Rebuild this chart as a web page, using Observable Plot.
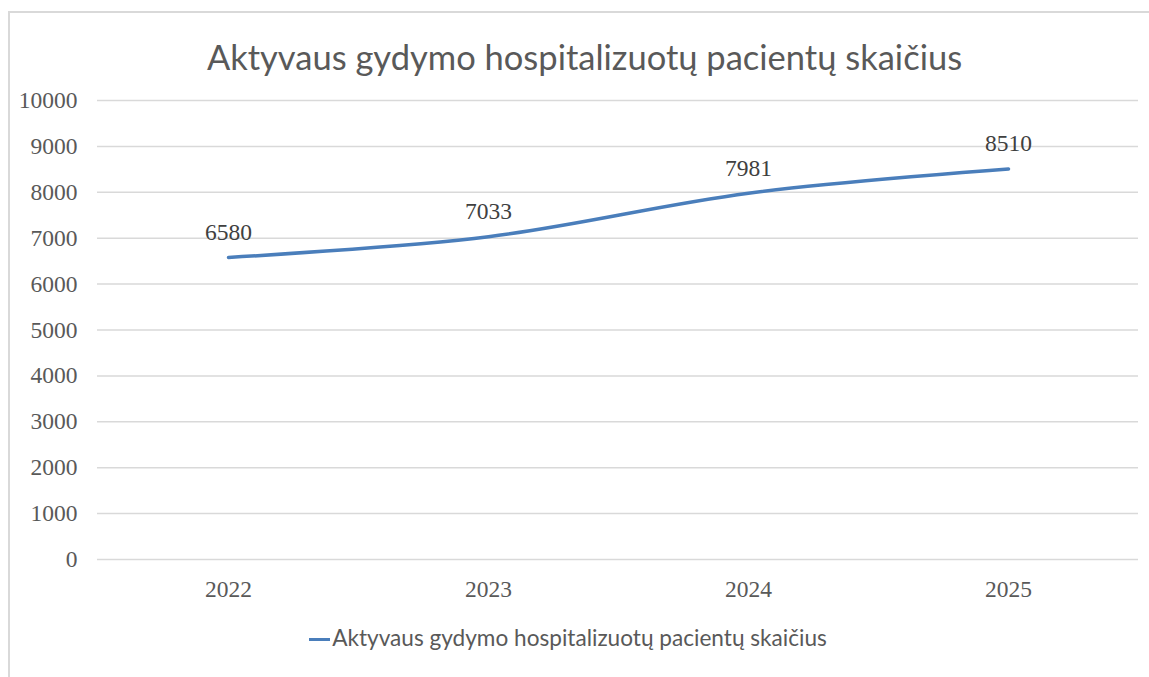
<!DOCTYPE html>
<html><head><meta charset="utf-8">
<script src="https://cdn.jsdelivr.net/npm/d3@7"></script>
<script src="https://cdn.jsdelivr.net/npm/@observablehq/plot@0.6"></script>
<style>
html,body{margin:0;padding:0;background:#fff;overflow:hidden;width:1149px;height:677px;}
#frame{position:absolute;left:8px;top:11px;width:1170px;height:700px;border:2px solid #d9d9d9;box-sizing:border-box;}
#title{position:absolute;left:0;top:36px;width:1169px;text-align:center;font-family:Lato,"Open Sans",sans-serif;font-size:34.5px;color:#595959;white-space:nowrap;}
#chart{position:absolute;left:0;top:0;}
#legend{position:absolute;top:624px;left:0;width:1136px;text-align:center;font-family:Lato,"Open Sans",sans-serif;font-size:22.6px;color:#595959;white-space:nowrap;}
#legend .sw{display:inline-block;width:21px;height:3.5px;background:#4a7ebb;vertical-align:middle;margin-right:2px;position:relative;top:-1px;}
</style>
</head><body>
<div id="frame"></div>
<div id="chart"></div>
<div id="title">Aktyvaus gydymo hospitalizuotų pacientų skaičius</div>
<div id="legend"><span class="sw"></span>Aktyvaus gydymo hospitalizuotų pacientų skaičius</div>
<script>
const years = ["2022", "2023", "2024", "2025"];
const patients = [6580, 7033, 7981, 8510];
const yTicks = [0, 1000, 2000, 3000, 4000, 5000, 6000, 7000, 8000, 9000, 10000];
const seriesName = "Aktyvaus gydymo hospitalizuotų pacientų skaičius";

const data = years.map((y, i) => ({year: y, value: patients[i]}));

const chart = Plot.plot({
  width: 1149,
  height: 677,
  marginLeft: 97,
  marginRight: 11,
  marginTop: 100,
  marginBottom: 118,
  x: {type: "point", domain: years, padding: 0.5, label: null},
  y: {domain: [0, 10000], label: null},
  style: {fontFamily: "'Liberation Serif', 'Times New Roman', serif", fontSize: "23.5px", color: "#595959", background: "transparent"},
  marks: [
    Plot.gridY(yTicks, {stroke: "#d9d9d9", strokeOpacity: 1, strokeWidth: 1.5}),
    Plot.axisY(yTicks, {tickSize: 0, tickPadding: 20, label: null, fill: "#595959", tickFormat: d => String(d)}),
    Plot.axisX({tickSize: 0, tickPadding: 21, label: null, fill: "#595959"}),
    Plot.line(data, {x: "year", y: "value", stroke: "#4a7ebb", strokeWidth: 3.5, curve: "catmull-rom"}),
    Plot.text(data, {x: "year", y: "value", text: d => String(d.value), dy: -25, fill: "#404040", fontSize: 23.5})
  ]
});
document.getElementById("chart").appendChild(chart);
</script>
</body></html>
